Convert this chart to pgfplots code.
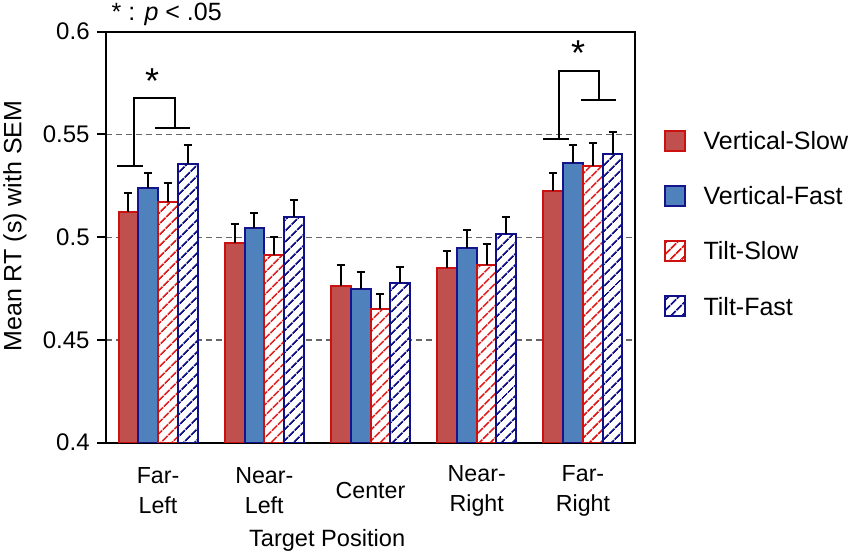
\documentclass[border=0pt]{standalone}
\usepackage{fontspec}
\setmainfont{Liberation Sans}
\usepackage{pgfplots}
\pgfplotsset{compat=1.18}
\usetikzlibrary{patterns.meta}
\definecolor{vsfill}{HTML}{C0504D}
\definecolor{vsedge}{HTML}{CC1111}
\definecolor{vffill}{HTML}{4F81BD}
\definecolor{vfedge}{HTML}{14148C}
\definecolor{tsline}{HTML}{E01515}
\definecolor{tfline}{HTML}{101088}
\definecolor{gridc}{HTML}{666666}
\begin{document}
\begin{tikzpicture}
\begin{axis}[
  name=ax,
  at={(0,0)}, anchor=south west,
  scale only axis,
  width=264.5pt, height=205.5pt,
  xmin=-0.49, xmax=4.49,
  ymin=0.4, ymax=0.6,
  axis line style={line width=1pt},
  xtick={0,1,2,3,4},
  xticklabels={{Far-\\Left},{Near-\\Left},{Center},{Near-\\Right},{Far-\\Right}},
  xtick style={draw=none},
  xticklabel style={align=center, anchor=center, yshift=-19.5pt, font=\fontsize{11.6}{15}\selectfont},
  ytick={0.4,0.45,0.5,0.55,0.6},
  yticklabels={0.4,0.45,0.5,0.55,0.6},
  ytick pos=left,
  tick align=outside,
  major tick length=4.5pt,
  ytick style={line width=1pt, black},
  yticklabel style={anchor=east, inner sep=0pt, xshift=-3.5pt, font=\fontsize{12}{14}\selectfont},
  ymajorgrids,
  grid style={gridc, line width=0.6pt, dash pattern=on 3pt off 2pt},
  ylabel={Mean RT (s) with SEM},
  ylabel style={at={(axis description cs:-0.172,0.527)}, anchor=center, font=\fontsize{12.5}{14}\selectfont},
  xlabel={Target Position},
  xlabel style={at={(axis description cs:0.418,-0.237)}, anchor=center, font=\fontsize{11.8}{14}\selectfont},
  legend style={draw=none, fill=none, inner sep=0pt, outer sep=0pt,
    at={(axis description cs:1.0548,0.761)}, anchor=north west,
    row sep=16.75pt, column sep=9pt,
    font=\fontsize{12.5}{14}\selectfont,
    nodes={inner sep=0pt, text height=9pt, text depth=0pt, anchor=base west}},
  legend cell align=left,
  legend image code/.code={\draw[#1, line width=0.8pt] (0pt,-0.5pt) rectangle (10pt,9.5pt);},
  error bars/y dir=plus,
  error bars/y explicit,
  error bars/error bar style={black, line width=1pt},
  error bars/error mark options={black, line width=1pt, mark size=2pt, rotate=90},
]
\addplot[ybar, bar width=0.186, bar shift=0pt, x filter/.expression={x-0.279}, fill=vsfill, draw=vsedge, line width=1pt]
  coordinates {(0,0.5121) +- (0,0.0096) (1,0.4970) +- (0,0.0094) (2,0.4762) +- (0,0.0103) (3,0.4852) +- (0,0.0079) (4,0.5225) +- (0,0.0086)};
\addlegendentry{Vertical-Slow}
\addplot[ybar, bar width=0.186, bar shift=0pt, x filter/.expression={x-0.093}, fill=vffill, draw=vfedge, line width=1pt]
  coordinates {(0,0.5239) +- (0,0.0072) (1,0.5043) +- (0,0.0075) (2,0.4748) +- (0,0.0081) (3,0.4947) +- (0,0.0087) (4,0.5361) +- (0,0.0088)};
\addlegendentry{Vertical-Fast}
\addplot[ybar, bar width=0.186, bar shift=0pt, x filter/.expression={x+0.093}, fill=white, draw=vsedge, line width=1pt,
  postaction={pattern={Lines[angle=45,distance=4pt,line width=1pt]}, pattern color=tsline}]
  coordinates {(0,0.5170) +- (0,0.0095) (1,0.4915) +- (0,0.0086) (2,0.4652) +- (0,0.0072) (3,0.4865) +- (0,0.0103) (4,0.5348) +- (0,0.0110)};
\addlegendentry{Tilt-Slow}
\addplot[ybar, bar width=0.186, bar shift=0pt, x filter/.expression={x+0.279}, fill=white, draw=tfline, line width=1pt,
  postaction={pattern={Lines[angle=45,distance=4pt,line width=1pt]}, pattern color=tfline}]
  coordinates {(0,0.5356) +- (0,0.0094) (1,0.5100) +- (0,0.0082) (2,0.4776) +- (0,0.0080) (3,0.5017) +- (0,0.0081) (4,0.5403) +- (0,0.0110)};
\addlegendentry{Tilt-Fast}
% significance brackets
\addplot[black, line width=1pt, forget plot] coordinates {(-0.383,0.5346) (-0.139,0.5346)};
\addplot[black, line width=1pt, forget plot] coordinates {(-0.229,0.5346) (-0.229,0.5676) (0.160,0.5676) (0.160,0.5533)};
\addplot[black, line width=1pt, forget plot] coordinates {(-0.028,0.5533) (0.301,0.5533)};
\addplot[black, line width=1pt, forget plot] coordinates {(3.628,0.5478) (3.864,0.5478)};
\addplot[black, line width=1pt, forget plot] coordinates {(3.773,0.5478) (3.773,0.5810) (4.155,0.5810) (4.155,0.5666)};
\addplot[black, line width=1pt, forget plot] coordinates {(3.980,0.5666) (4.310,0.5666)};
\node[font=\fontsize{18}{20}\selectfont, inner sep=0pt] at (axis cs:-0.056,0.5760) {*};
\node[font=\fontsize{18}{20}\selectfont, inner sep=0pt] at (axis cs:3.955,0.5897) {*};
\end{axis}
\node[font=\fontsize{12.5}{14}\selectfont, inner sep=0pt, xshift=30.35pt, yshift=8.85pt] at (ax.north west) {* : \textit{p} < .05};
\pgfresetboundingbox
\path (-53pt,-56.65pt) rectangle (372pt,221.35pt);
\end{tikzpicture}
\end{document}
